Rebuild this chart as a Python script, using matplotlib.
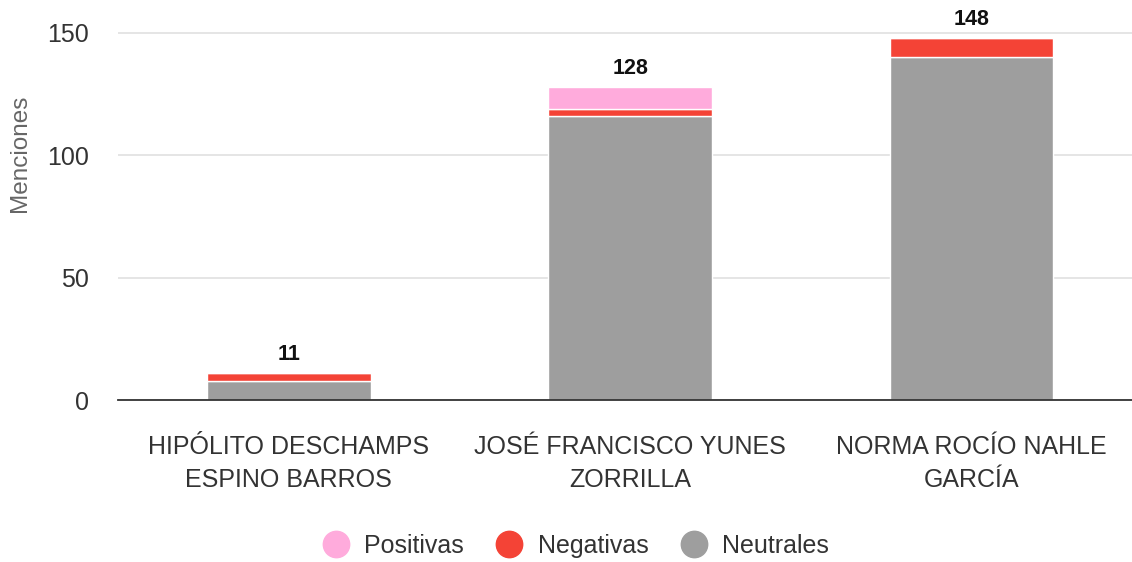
import numpy as np
import matplotlib
matplotlib.use("Agg")
import matplotlib.pyplot as plt
from matplotlib.lines import Line2D

plt.rcParams['font.family'] = ['Liberation Sans', 'DejaVu Sans']

categories = ["HIPÓLITO DESCHAMPS\nESPINO BARROS",
              "JOSÉ FRANCISCO YUNES\nZORRILLA",
              "NORMA ROCÍO NAHLE\nGARCÍA"]
neutrales = [8, 116, 140]
negativas = [3, 3, 8]
positivas = [0, 9, 0]
totales = [11, 128, 148]

c_pos = "#FFABDC"
c_neg = "#F44336"
c_neu = "#9E9E9E"

fig = plt.figure(figsize=(11.32, 5.62), dpi=100)
ax = fig.add_axes([118/1132, 0.288, 1 - 118/1132, 0.697])

x = np.arange(len(categories))
w = 0.48
neu = np.array(neutrales)
neg = np.array(negativas)
pos = np.array(positivas)
ax.bar(x, neu, w, color=c_neu, edgecolor="white", linewidth=1, zorder=3)
ax.bar(x, neg, w, bottom=neu, color=c_neg, edgecolor="white", linewidth=1, zorder=3)
ax.bar(x, pos, w, bottom=neu + neg, color=c_pos, edgecolor="white", linewidth=1, zorder=3)

for xi, t in zip(x, totales):
    ax.text(xi, t + 3.3, str(t), ha="center", va="bottom", fontsize=15.5,
            fontweight="bold", color="#111111")

ax.set_xlim(-0.5, 2.47)
ax.set_ylim(0, 160)
ax.set_yticks([0, 50, 100, 150])
ax.grid(axis="y", color="#e0e0e0", linewidth=1.2, zorder=0)
for s in ["top", "right", "left"]:
    ax.spines[s].set_visible(False)
ax.spines["bottom"].set_color("#333333")
ax.spines["bottom"].set_linewidth(1.3)
ax.spines["bottom"].set_zorder(4)
ax.tick_params(axis="both", length=0, labelcolor="#333333")
ax.tick_params(axis="y", pad=21, labelsize=18)
ax.tick_params(axis="x", pad=25)
ax.set_xticks(x)
ax.set_xticklabels(categories, fontsize=18, linespacing=1.5)
ax.set_ylabel("Menciones", fontsize=17.5, color="#666666")
ax.yaxis.set_label_coords(-0.086, 0.631)

handles = [Line2D([], [], marker="o", linestyle="", markersize=19, color=c)
           for c in [c_pos, c_neg, c_neu]]
fig.legend(handles, ["Positivas", "Negativas", "Neutrales"], loc="center",
           bbox_to_anchor=(570/1132, 1 - 546/562), ncol=3, frameon=False,
           fontsize=18, handletextpad=0.15, columnspacing=0.8, labelcolor="#333333")

fig.savefig("out.png", dpi=100)
